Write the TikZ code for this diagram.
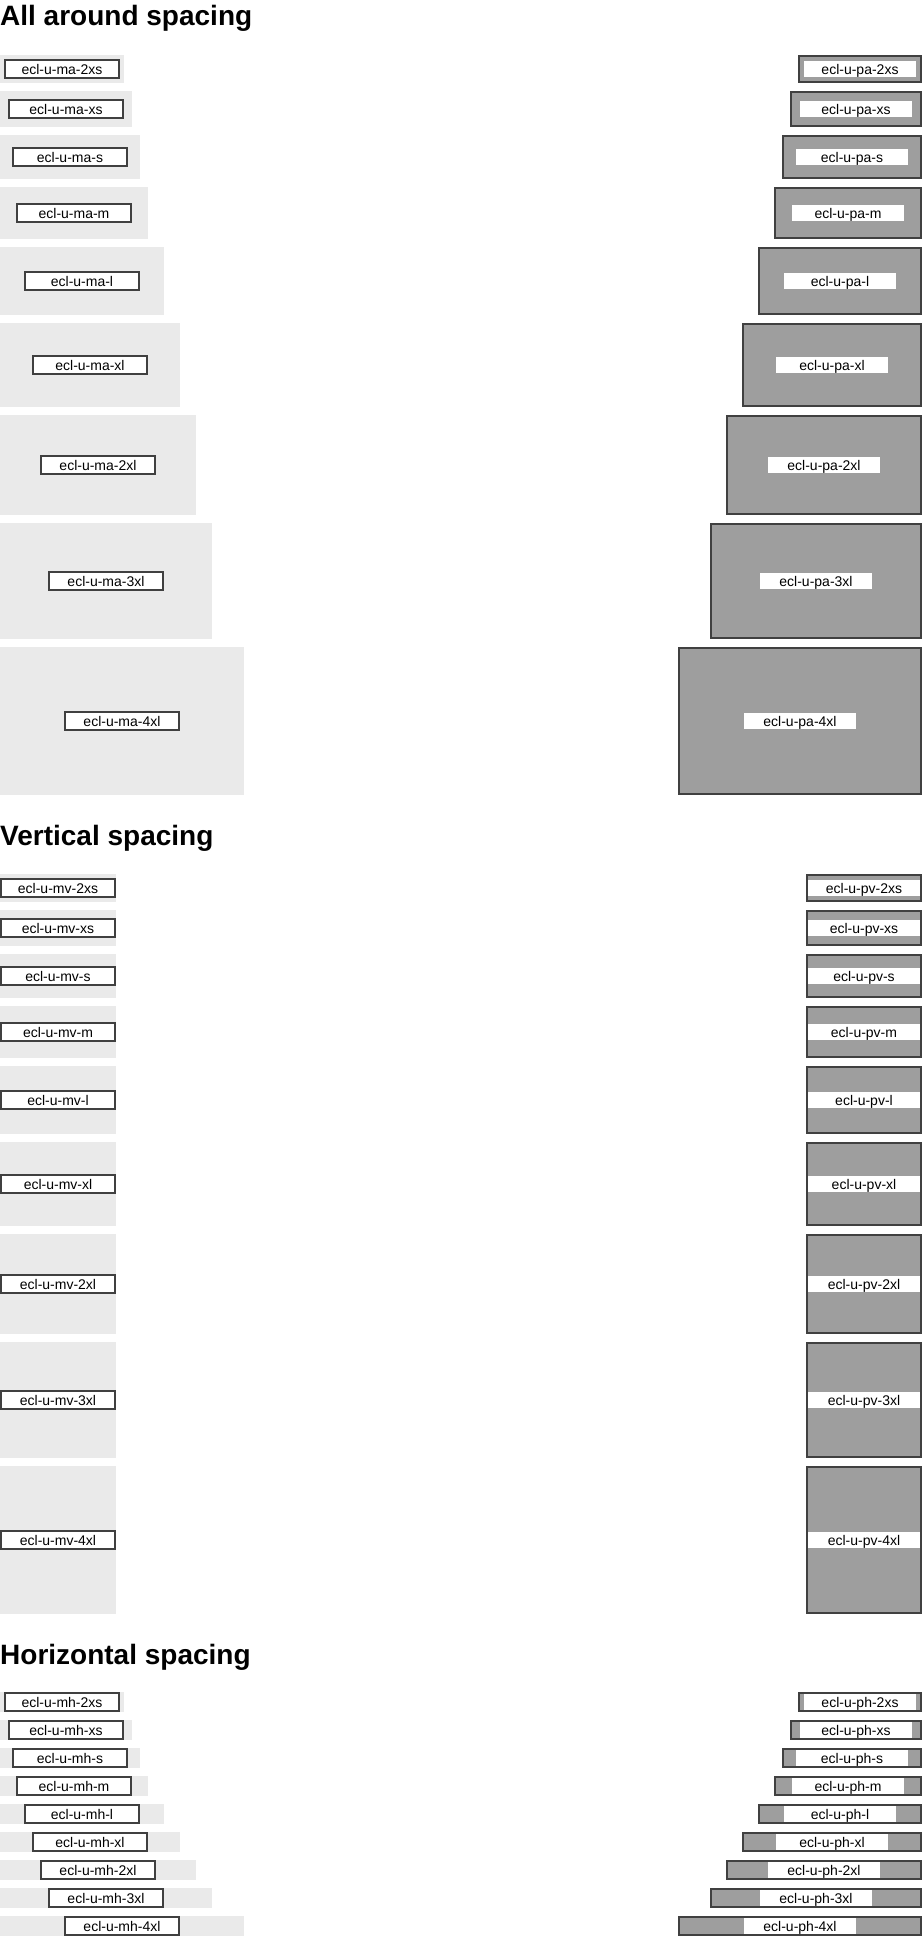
\documentclass[tikz,border=0pt]{standalone}
\usepackage{fontspec}
\setmainfont{Liberation Sans}
\definecolor{wrapgray}{HTML}{EAEAEA}
\definecolor{padgray}{HTML}{9E9E9E}
\definecolor{edgegray}{HTML}{404040}
\begin{document}
\begin{tikzpicture}[x=1pt,y=-1pt,
  wrapbg/.style={fill=wrapgray},
  edgebox/.style={draw=edgegray,line width=2pt},
  tag/.style={anchor=base,inner sep=0pt,font=\fontsize{14pt}{16pt}\selectfont},
  heading/.style={anchor=base west,inner sep=0pt,font=\fontsize{28pt}{32pt}\selectfont\bfseries}]
\useasboundingbox (0,0) rectangle (922,1936);

% ---- all around spacing ----
\node[heading] (h-all) at (0,25) {All around spacing};
\foreach \m/\n/\t in {4/2xs/55, 8/xs/91, 12/s/135, 16/m/187, 24/l/247,
                      32/xl/323, 40/2xl/415, 48/3xl/523, 64/4xl/647}{
  % margin example
  \fill[wrapbg] (0,\t) rectangle ({2*\m+116},{\t+2*\m+20});
  \draw[edgebox,fill=white] ({\m+1},{\t+\m+1}) rectangle ({\m+115},{\t+\m+19});
  \node[tag] (ma-\n) at ({\m+58},{\t+\m+15.3}) {ecl-u-ma-\n};
  % padding example
  \draw[edgebox,fill=padgray] ({807-2*\m},{\t+1}) rectangle (921,{\t+2*\m+19});
  \fill[white] ({808-\m},{\t+\m+2}) rectangle ({920-\m},{\t+\m+18});
  \node[tag] (pa-\n) at ({864-\m},{\t+\m+15.3}) {ecl-u-pa-\n};
}

% ---- vertical spacing ----
\node[heading] (h-vert) at (0,845) {Vertical spacing};
\foreach \m/\n/\t in {4/2xs/874, 8/xs/910, 12/s/954, 16/m/1006, 24/l/1066,
                      32/xl/1142, 40/2xl/1234, 48/3xl/1342, 64/4xl/1466}{
  \fill[wrapbg] (0,\t) rectangle (116,{\t+2*\m+20});
  \draw[edgebox,fill=white] (1,{\t+\m+1}) rectangle (115,{\t+\m+19});
  \node[tag] (mv-\n) at (58,{\t+\m+15.3}) {ecl-u-mv-\n};
  \draw[edgebox,fill=padgray] (807,{\t+1}) rectangle (921,{\t+2*\m+19});
  \fill[white] (808,{\t+\m+2}) rectangle (920,{\t+\m+18});
  \node[tag] (pv-\n) at (864,{\t+\m+15.3}) {ecl-u-pv-\n};
}

% ---- horizontal spacing ----
\node[heading] (h-horiz) at (0,1664) {Horizontal spacing};
\foreach \m/\n/\t in {4/2xs/1692, 8/xs/1720, 12/s/1748, 16/m/1776, 24/l/1804,
                      32/xl/1832, 40/2xl/1860, 48/3xl/1888, 64/4xl/1916}{
  \fill[wrapbg] (0,\t) rectangle ({2*\m+116},{\t+20});
  \draw[edgebox,fill=white] ({\m+1},{\t+1}) rectangle ({\m+115},{\t+19});
  \node[tag] (mh-\n) at ({\m+58},{\t+15.3}) {ecl-u-mh-\n};
  \draw[edgebox,fill=padgray] ({807-2*\m},{\t+1}) rectangle (921,{\t+19});
  \fill[white] ({808-\m},{\t+2}) rectangle ({920-\m},{\t+18});
  \node[tag] (ph-\n) at ({864-\m},{\t+15.3}) {ecl-u-ph-\n};
}
\end{tikzpicture}
\end{document}
